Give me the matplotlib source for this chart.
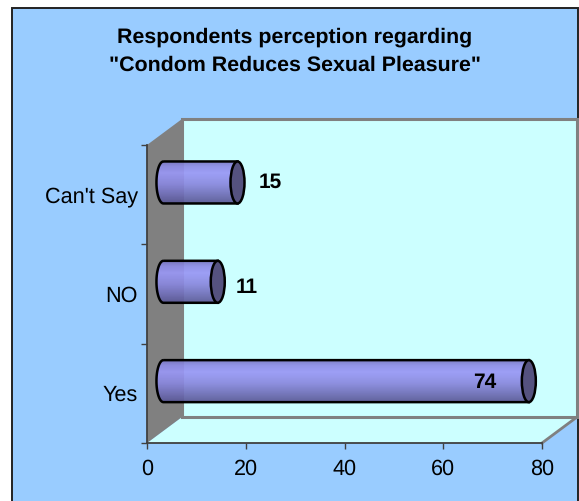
import numpy as np
import matplotlib
matplotlib.use("Agg")
import matplotlib.pyplot as plt
from matplotlib.patches import Polygon, Rectangle, Ellipse, PathPatch
from matplotlib.path import Path
from matplotlib.colors import LinearSegmentedColormap
from matplotlib.transforms import IdentityTransform, ScaledTranslation

categories = ["Yes", "NO", "Can't Say"]
values = [74, 11, 15]
x_ticks = [0, 20, 40, 60, 80]
title = 'Respondents perception regarding\n"Condom Reduces Sexual Pleasure"'

W, H = 579, 502
plt.rcParams['font.family'] = ['Liberation Sans', 'DejaVu Sans']
plt.rcParams['text.hinting'] = 'no_hinting'
fig = plt.figure(figsize=(W / 100, H / 100), dpi=100, facecolor='white')

def px(x, y):
    return (x, H - y)

# Chart-area background and border (figure pixels)
fig.patches.append(Rectangle(px(12, 530), 566, 521, transform=IdentityTransform(),
                             facecolor='#99CCFF', edgecolor='#222222', linewidth=1.4, zorder=-1))

L, R, T, B = 147, 542, 146, 444
ax = fig.add_axes([L / W, (H - B) / H, (R - L) / W, (B - T) / H])
ax.patch.set_visible(False)
xlim = (0, 80)
ylim = (0, 3)
sx = (R - L) / 80
sy = (B - T) / 3
dx, dy = 35 / sx, 26 / sy     # 3-D depth in data units

# Back wall, side wall, floor
ax.add_patch(Polygon([(dx, dy), (80 + dx, dy), (80 + dx, 3 + dy), (dx, 3 + dy)], closed=True,
                     facecolor='#CCFFFF', edgecolor='#808080', linewidth=2.2, clip_on=False, zorder=1))
ax.add_patch(Polygon([(0, 0), (dx, dy), (dx, 3 + dy), (0, 3)], closed=True,
                     facecolor='#808080', edgecolor='none', clip_on=False, zorder=1.2))
ax.add_patch(Polygon([(0, 0), (80, 0), (80 + dx, dy), (dx, dy)], closed=True,
                     facecolor='#CCFFFF', edgecolor='none', clip_on=False, zorder=0.9))
ax.plot([80, 80 + dx], [0, dy], color='#808080', lw=2, clip_on=False, zorder=1.3)

cmap = LinearSegmentedColormap.from_list('cyl', [
    (0.0, '#5A5896'), (0.18, '#6E6CB4'), (0.45, '#8A88DE'),
    (0.72, '#9A98F6'), (0.88, '#8E8CE6'), (1.0, '#7A78C4')])
grad = np.linspace(0, 1, 64).reshape(-1, 1)

a = 7 / sx        # cap half-width
b = 21 / sy       # cylinder half-height
x0 = dx * 0.47
theta = np.linspace(np.pi / 2, 3 * np.pi / 2, 40)

for i, v in enumerate(values):
    yc = i + 0.5 + dy / 2 - 0.8 / sy
    x1 = x0 + v
    left = np.column_stack([x0 + a * np.cos(theta), yc + b * np.sin(theta)])
    verts = np.vstack([left, [[x1, yc - b], [x1, yc + b], left[0]]])
    clip = PathPatch(Path(verts), facecolor='none', edgecolor='none', transform=ax.transData)
    ax.add_patch(clip)
    im = ax.imshow(grad, extent=(x0 - a, x1, yc - b, yc + b), origin='lower', aspect='auto',
                   cmap=cmap, alpha=0.93, zorder=2, clip_on=True)
    im.set_clip_path(clip)
    ax.add_patch(PathPatch(Path(verts), facecolor='none', edgecolor='black', linewidth=1.8,
                           clip_on=False, zorder=3))
    ax.add_patch(Ellipse((x1, yc), 2 * a, 2 * b, facecolor='#55527F', edgecolor='black',
                         linewidth=1.8, clip_on=False, zorder=4))
    if v > 50:
        off = -44
    else:
        off = 33 if v == 15 else 29
    ypx = 0 if v > 50 else (1 if v == 15 else -5)
    ax.annotate(str(v), xy=(x1, yc), xytext=(off * 0.72, ypx * 0.72), textcoords='offset points',
                ha='center', va='center', fontsize=15, fontweight='bold', color='black', zorder=5)

ax.set_xlim(*xlim)
ax.set_ylim(*ylim)
ax.set_xticks(x_ticks)
ax.set_yticks(range(4))
ax.set_yticklabels([])
ax.set_yticks([0.5, 1.5, 2.5], minor=True)
ax.set_yticklabels(categories, minor=True)
ax.tick_params(axis='y', which='minor', length=0, pad=6.5, labelsize=15.6)
ax.tick_params(axis='y', which='major', length=4, width=1, color='#404040', direction='out')
ax.tick_params(axis='x', length=4, width=1, color='#404040', direction='out', pad=6.5, labelsize=15.6)
for lab in ax.get_yticklabels(minor=True):
    lab.set_transform(lab.get_transform() + ScaledTranslation(0, 1.2 / 100, fig.dpi_scale_trans))
for s in ('top', 'right'):
    ax.spines[s].set_visible(False)
for s in ('left', 'bottom'):
    ax.spines[s].set_color('#404040')
    ax.spines[s].set_linewidth(1.3)
    ax.spines[s].set_zorder(6)

fig.text(295 / W, (H - 51) / H, title, ha='center', va='center', fontsize=15.4, fontweight='bold',
         linespacing=1.55, color='black')

fig.savefig('out.png', dpi=100, facecolor='white')
